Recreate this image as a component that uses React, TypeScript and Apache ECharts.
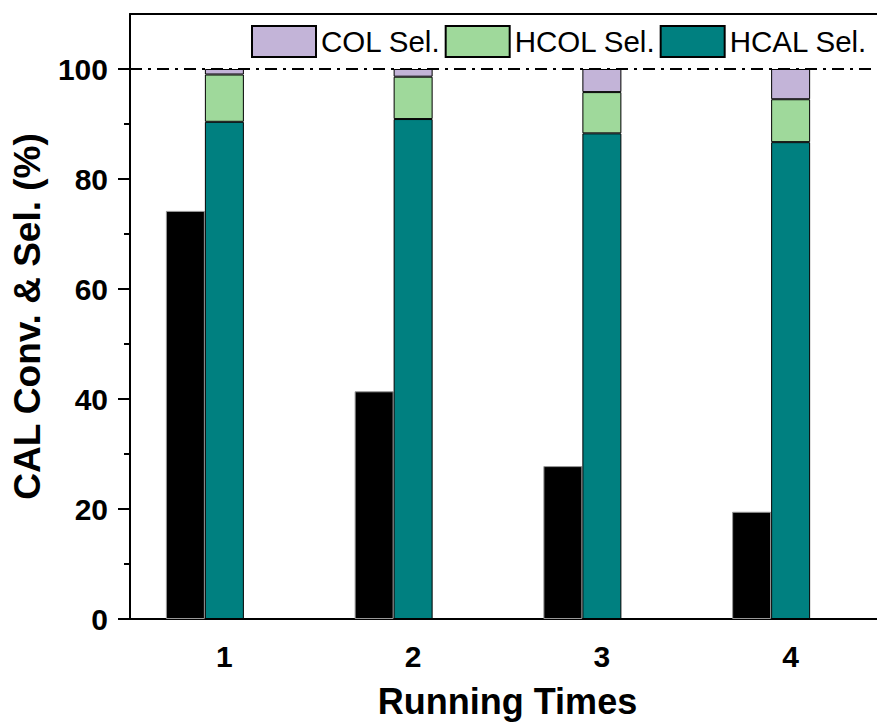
import React, { useEffect, useRef } from "react";
import * as echarts from "echarts";

const categories = ["1", "2", "3", "4"];
const conversion = [74.2, 41.4, 27.8, 19.5];
const hcalSel = [90.4, 90.9, 88.3, 86.7];
const hcolSel = [8.6, 7.7, 7.5, 7.8];
const colSel = [1.0, 1.4, 4.2, 5.5];
const yMajorTicks = [0, 20, 40, 60, 80, 100];
const yMinorTicks = [10, 30, 50, 70, 90];
const referenceLine = 100;

const FONT = 'Arial, "Liberation Sans", sans-serif';

export default function App() {
  const ref = useRef<HTMLDivElement>(null);
  useEffect(() => {
    if (!ref.current) return;
    const chart = echarts.init(ref.current, null, { renderer: "svg" });
    const barW = 39;
    chart.setOption({
      animation: false,
      backgroundColor: "#fff",
      textStyle: { fontFamily: FONT, color: "#000" },
      grid: {
        left: 130,
        right: 0,
        top: 14,
        bottom: 99,
        show: false,
      },
      legend: {
        data: ["COL Sel.", "HCOL Sel.", "HCAL Sel."],
        left: 246,
        top: 20,
        itemWidth: 64,
        itemHeight: 31,
        itemGap: 4,
        icon: "rect",
        textStyle: { fontFamily: FONT, fontSize: 29.5, color: "#000" },
      },
      xAxis: [
        {
          type: "category",
          data: categories,
          name: "Running Times",
          nameLocation: "middle",
          nameGap: 64,
          nameTextStyle: { fontFamily: FONT, fontSize: 36, fontWeight: "bold", color: "#000" },
          axisLine: { lineStyle: { color: "#000", width: 2 } },
          axisTick: { alignWithLabel: true, length: 10, lineStyle: { color: "#000", width: 2 } },
          axisLabel: { fontFamily: FONT, fontSize: 30, fontWeight: "bold", color: "#000", margin: 22 },
          splitLine: { show: false },
        },
        {
          type: "category",
          data: categories,
          position: "bottom",
          axisLine: { show: false },
          axisTick: { length: 6, lineStyle: { color: "#000", width: 2 } },
          axisLabel: { show: false },
          splitLine: { show: false },
        },
        {
          type: "category",
          data: categories,
          position: "top",
          axisLine: { show: true, lineStyle: { color: "#000", width: 2 } },
          axisTick: { show: false },
          axisLabel: { show: false },
          splitLine: { show: false },
        },
      ],
      yAxis: [
        {
          type: "value",
          min: 0,
          max: 110,
          interval: 20,
          name: "CAL Conv. & Sel. (%)",
          nameLocation: "middle",
          nameGap: 84,
          nameTextStyle: { fontFamily: FONT, fontSize: 37, fontWeight: "bold", color: "#000" },
          axisLine: { show: true, lineStyle: { color: "#000", width: 2 } },
          axisTick: { show: true, length: 12, customValues: yMajorTicks, lineStyle: { color: "#000", width: 2 } },
          axisLabel: {
            customValues: yMajorTicks,
            fontFamily: FONT,
            fontSize: 30,
            fontWeight: "bold",
            color: "#000",
            margin: 22,
          },
          splitLine: { show: false },
        },
        {
          type: "value",
          min: 0,
          max: 110,
          position: "left",
          axisLine: { show: false },
          axisTick: { show: true, length: 6, customValues: yMinorTicks, lineStyle: { color: "#000", width: 2 } },
          axisLabel: { show: false },
          splitLine: { show: false },
        },
      ],
      series: [
        {
          name: "CAL Conv.",
          type: "bar",
          data: conversion,
          barWidth: barW,
          barGap: "0%",
          itemStyle: { color: "#000", borderColor: "#999", borderWidth: 1 },
        },
        {
          name: "HCAL Sel.",
          type: "bar",
          stack: "sel",
          data: hcalSel,
          barWidth: barW,
          barGap: "0%",
          itemStyle: { color: "#008080", borderColor: "#000", borderWidth: 1 },
          markLine: {
            symbol: "none",
            silent: true,
            label: { show: false },
            lineStyle: { color: "#000", width: 2, type: [12, 6, 3, 6] },
            data: [{ yAxis: referenceLine }],
          },
        },
        {
          name: "HCOL Sel.",
          type: "bar",
          stack: "sel",
          data: hcolSel,
          barWidth: barW,
          barGap: "0%",
          itemStyle: { color: "#9FD99B", borderColor: "#000", borderWidth: 1 },
        },
        {
          name: "COL Sel.",
          type: "bar",
          stack: "sel",
          data: colSel,
          barWidth: barW,
          barGap: "0%",
          itemStyle: { color: "#C3B4D8", borderColor: "#000", borderWidth: 1 },
        },
        {
          name: "spacer",
          type: "bar",
          stack: "spacer",
          data: categories.map(() => "-"),
          barWidth: barW,
          barGap: "0%",
          itemStyle: { color: "transparent" },
        },
      ],
    });
    return () => chart.dispose();
  }, []);
  return (
    <div
      style={{
        position: "absolute",
        left: 0,
        top: 0,
        width: 877,
        height: 724,
        overflow: "hidden",
        background: "#fff",
      }}
    >
      <div ref={ref} style={{ width: 885, height: 724 }} />
    </div>
  );
}
